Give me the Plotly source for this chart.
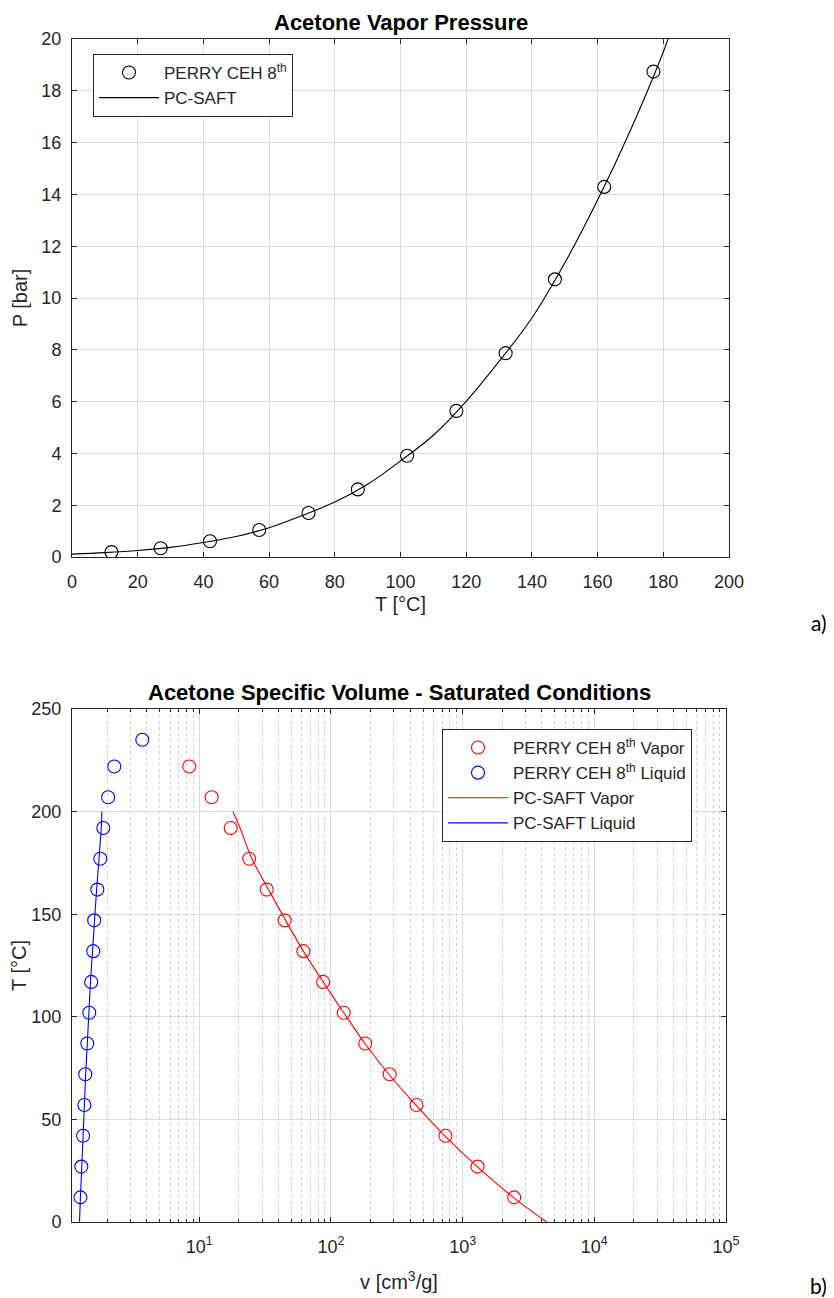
import plotly.graph_objects as go

# ---------- (a) Vapor pressure ----------
T_pts = [12, 27, 42, 57, 72, 87, 102, 117, 132, 147, 162, 177]
P_pts = [0.19, 0.34, 0.61, 1.04, 1.70, 2.61, 3.91, 5.64, 7.87, 10.72, 14.29, 18.74]

T_line = [0, 10, 20, 30, 40, 50, 60, 70, 80, 90, 100, 110, 120, 130, 140, 150, 160, 170, 180, 182]
P_line = [0.11, 0.17, 0.25, 0.37, 0.56, 0.79, 1.13, 1.60, 2.12, 2.81, 3.71, 4.70, 6.01, 7.55,
          9.23, 11.35, 13.78, 16.48, 19.5, 20.2]

# ---------- (b) Specific volume ----------
T_sat = [12, 27, 42, 57, 72, 87, 102, 117, 132, 147, 162, 177, 192, 207, 222]
v_vap_pts = [2462, 1297, 740, 446, 279, 182, 125, 87.1, 61.7, 44.5, 32.5, 23.9, 17.3, 12.4, 8.39]

T_liq_pts = [12, 27, 42, 57, 72, 87, 102, 117, 132, 147, 162, 177, 192, 207, 222, 235]
v_liq_pts = [1.25, 1.27, 1.31, 1.34, 1.36, 1.41, 1.46, 1.51, 1.565, 1.59, 1.68, 1.77, 1.865,
             2.03, 2.26, 3.69]

T_vap_line = [0, 12, 27, 42, 57, 72, 87, 102, 117, 132, 147, 162, 177, 192, 200]
v_vap_line = [4335, 2427, 1288, 733, 442, 275, 181, 125, 87.1, 61.7, 45.2, 33.5, 25.1, 20.4, 18.0]

T_liq_line = [0, 12, 27, 42, 57, 72, 87, 102, 117, 132, 147, 162, 177, 192, 200]
v_liq_line = [1.23, 1.25, 1.28, 1.31, 1.34, 1.37, 1.41, 1.45, 1.49, 1.545, 1.60, 1.66, 1.73,
              1.80, 1.82]

x_ticks_log = [10, 100, 1000, 10000, 100000]
x_ticktext = ["10<sup>1</sup>", "10<sup>2</sup>", "10<sup>3</sup>", "10<sup>4</sup>", "10<sup>5</sup>"]

FONT = "Liberation Sans, Arial, sans-serif"
AX = "#262626"
GRID = "#DCDCDC"

fig = go.Figure()

fig.add_trace(go.Scatter(x=T_pts, y=P_pts, mode="markers", name="PERRY CEH 8<sup>th</sup>",
                         marker=dict(symbol="circle-open", size=13, color="black",
                                     line=dict(width=1.1, color="black")),
                         xaxis="x", yaxis="y", legend="legend"))
fig.add_trace(go.Scatter(x=T_line, y=P_line, mode="lines", name="PC-SAFT",
                         line=dict(color="black", width=1.1, shape="spline"),
                         xaxis="x", yaxis="y", legend="legend"))

fig.add_trace(go.Scatter(x=v_vap_pts, y=T_sat, mode="markers", name="PERRY CEH 8<sup>th</sup> Vapor",
                         marker=dict(symbol="circle-open", size=13, color="#FF0000",
                                     line=dict(width=1.1, color="#FF0000")),
                         xaxis="x2", yaxis="y2", legend="legend2"))
fig.add_trace(go.Scatter(x=v_liq_pts, y=T_liq_pts, mode="markers", name="PERRY CEH 8<sup>th</sup> Liquid",
                         marker=dict(symbol="circle-open", size=13, color="#0000FF",
                                     line=dict(width=1.1, color="#0000FF")),
                         xaxis="x2", yaxis="y2", legend="legend2"))
fig.add_trace(go.Scatter(x=v_vap_line, y=T_vap_line, mode="lines", name="PC-SAFT Vapor",
                         line=dict(color="#FF0000", width=1.1, shape="spline"),
                         xaxis="x2", yaxis="y2", legend="legend2"))
fig.add_trace(go.Scatter(x=v_liq_line, y=T_liq_line, mode="lines", name="PC-SAFT Liquid",
                         line=dict(color="#0000FF", width=1.1, shape="spline"),
                         xaxis="x2", yaxis="y2", legend="legend2"))

# page has an 8px body margin: figure is placed at (8, 8)
OFF = 8
W, H = 834 - OFF, 1298 - OFF


def px(X):
    return (X - OFF) / W


def py(Y):
    return 1 - (Y - OFF) / H


L = px(72)
R1, R2 = px(729), px(726)
top_dom = [py(557), py(39)]
bot_dom = [py(1222), py(709)]

common = dict(showline=True, linecolor=AX, linewidth=1, mirror="allticks", ticks="inside",
              ticklen=5, tickcolor=AX, showgrid=True, gridcolor=GRID, gridwidth=1,
              zeroline=False, automargin=False,
              tickfont=dict(family=FONT, size=18, color=AX),
              title_font=dict(family=FONT, size=20, color=AX))

minor_vals = [m * 10 ** e for e in range(0, 5) for m in range(2, 10)]

fig.update_layout(
    width=W, height=H, margin=dict(l=0, r=0, t=0, b=0, autoexpand=False),
    paper_bgcolor="white", plot_bgcolor="white",
    font=dict(family=FONT, color=AX),
    xaxis=dict(domain=[L, R1], anchor="y", range=[0, 200], tickmode="linear", tick0=0, dtick=20,
               title=dict(text="T [°C]", standoff=6), ticklabelstandoff=8, **common),
    yaxis=dict(domain=top_dom, anchor="x", range=[0, 20], tickmode="linear", tick0=0, dtick=2,
               title=dict(text="P [bar]", standoff=8), ticklabelstandoff=6, **common),
    xaxis2=dict(domain=[L, R2], anchor="y2", type="log", range=[0.033, 5],
                tickmode="array", tickvals=x_ticks_log, ticktext=x_ticktext,
                title=dict(text="v [cm<sup>3</sup>/g]", standoff=19), ticklabelstandoff=8,
                minor=dict(tickmode="array", tickvals=minor_vals, ticks="inside", ticklen=3,
                           tickcolor=AX, showgrid=True, gridcolor="#D0D0D0", griddash="dot",
                           gridwidth=1),
                **common),
    yaxis2=dict(domain=bot_dom, anchor="x2", range=[0, 250], tickmode="linear", tick0=0, dtick=50,
                title=dict(text="T [°C]", standoff=8), ticklabelstandoff=6, **common),
    legend=dict(x=px(93), y=py(54), xanchor="left", yanchor="top", bgcolor="white",
                bordercolor="#262626", borderwidth=1, font=dict(family=FONT, size=17, color=AX),
                tracegroupgap=0, itemwidth=60),
    legend2=dict(x=px(442), y=py(729), xanchor="left", yanchor="top", bgcolor="white",
                 bordercolor="#262626", borderwidth=1, font=dict(family=FONT, size=17, color=AX),
                 tracegroupgap=0, itemwidth=60),
    showlegend=True,
    annotations=[
        dict(text="<b>Acetone Vapor Pressure</b>", x=(L + R1) / 2, y=py(22), xref="paper",
             yref="paper", showarrow=False, font=dict(family=FONT, size=22, color="black"),
             xanchor="center", yanchor="middle"),
        dict(text="<b>Acetone Specific Volume - Saturated Conditions</b>", x=(L + R2) / 2,
             y=py(692), xref="paper", yref="paper", showarrow=False,
             font=dict(family=FONT, size=22, color="black"), xanchor="center", yanchor="middle"),
        dict(text="a)", x=px(829), y=py(622), xref="paper", yref="paper", showarrow=False,
             font=dict(family="Lato, sans-serif", size=21, color="black"), xanchor="right",
             yanchor="middle"),
        dict(text="b)", x=px(829), y=py(1285), xref="paper", yref="paper", showarrow=False,
             font=dict(family="Lato, sans-serif", size=21, color="black"), xanchor="right",
             yanchor="middle"),
    ],
)

fig.write_html("out.html")
